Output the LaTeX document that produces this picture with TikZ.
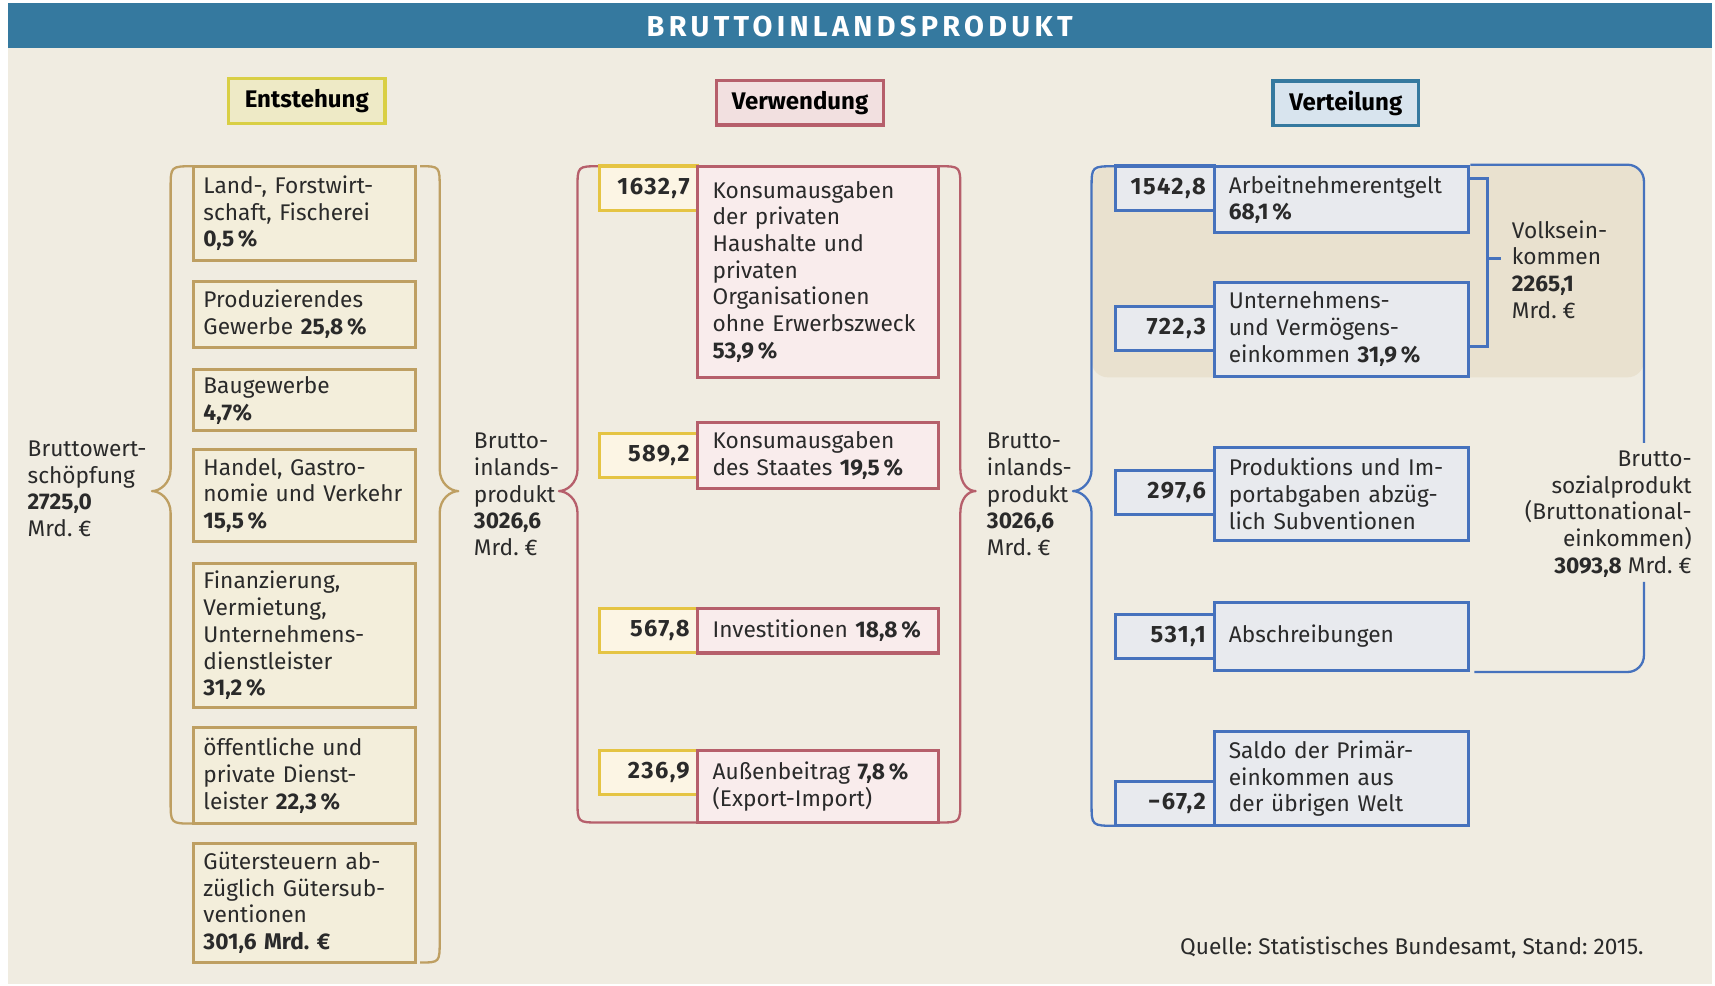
\documentclass[tikz,border=0pt]{standalone}
\usepackage{fontspec}
\setmainfont{Fira Sans}
\usetikzlibrary{calc}

\definecolor{cream}{HTML}{F0ECE1}
\definecolor{headblue}{HTML}{35799F}
\definecolor{tanline}{HTML}{BE9F62}
\definecolor{tanfill}{HTML}{F3EEDB}
\definecolor{goldline}{HTML}{E5C443}
\definecolor{goldfill}{HTML}{FCF5E4}
\definecolor{roseline}{HTML}{B65F6B}
\definecolor{rosefill}{HTML}{F9ECEC}
\definecolor{navyline}{HTML}{4672BD}
\definecolor{navyfill}{HTML}{E8EAEE}
\definecolor{shadebg}{HTML}{E9E1CF}
\definecolor{inktext}{HTML}{2A2A2A}
\definecolor{entline}{HTML}{D9CF45}
\definecolor{entfill}{HTML}{EEEAC6}
\definecolor{verwfill}{HTML}{F2E0E0}
\definecolor{vertfill}{HTML}{D8E4EE}

\newcommand{\bodyfont}{\fontsize{11.8}{13.9}\selectfont}

\tikzstyle{textbox}=[rectangle, line width=1.6pt, inner xsep=0.18cm, inner ysep=0pt, align=left, text=inktext, font=\bodyfont]
\tikzstyle{entbox}=[textbox, draw=tanline, fill=tanfill, text width=3.70cm]
\tikzstyle{verbox}=[textbox, draw=roseline, fill=rosefill, inner xsep=0.27cm, text width=3.86cm]
\tikzstyle{vtlbox}=[textbox, draw=navyline, fill=navyfill, inner xsep=0.27cm, text width=4.12cm]
\tikzstyle{valbox}=[textbox, align=right, text width=1.50cm, inner xsep=0.15cm, minimum height=0.81cm, font=\fontsize{12.3}{13.9}\selectfont\bfseries\addfontfeatures{LetterSpace=6}]
\tikzstyle{headbox}=[rectangle, line width=1.8pt, minimum height=0.82cm, inner xsep=0pt, font=\fontsize{12.5}{14}\selectfont\bfseries, text=black]
\tikzstyle{brace}=[line width=1.2pt, line join=round]
\tikzstyle{sumtext}=[align=left, inner sep=0pt, text=inktext, font=\bodyfont]

\begin{document}
\frenchspacing
\begin{tikzpicture}[x=0.02cm, y=-0.02cm]
    \useasboundingbox (0,0) rectangle (1568,901);
    \fill[white] (0,0) rectangle (1568,901);
    \fill[cream] (7,44) rectangle (1565,900);
    \fill[headblue] (7,3) rectangle (1565,44);
    \node[text=white, font=\fontsize{15}{16}\selectfont\bfseries\addfontfeatures{LetterSpace=15}] (title) at (786,24) {BRUTTOINLANDSPRODUKT};

    % headings of the three columns
    \node[headbox, draw=entline, fill=entfill, minimum width=2.86cm] (ent) at (280.5,92.5) {Entstehung};
    \node[headbox, draw=roseline, fill=verwfill, minimum width=3.06cm] (verw) at (731.5,94) {Verwendung};
    \node[headbox, draw=headblue, fill=vertfill, minimum width=2.66cm] (vert) at (1230.5,94.5) {Verteilung};

    % shaded part of the Volkseinkommen
    \fill[shadebg, rounded corners=0.3cm] (998,152) rectangle (1503,345);

    % braces
    \draw[brace, tanline] (177,152) .. controls (156,152) .. (156,172) -- (156,429)
        .. controls (156,442) and (146,449) .. (139,449) .. controls (146,449) and (156,456) .. (156,469)
        -- (156,733) .. controls (156,753) .. (177,753);
    \draw[brace, tanline] (384,152) .. controls (402,152) .. (402,172) -- (402,429)
        .. controls (402,442) and (412,449) .. (419,449) .. controls (412,449) and (402,456) .. (402,469)
        -- (402,860) .. controls (402,880) .. (384,880);
    \draw[brace, roseline] (548,152) .. controls (528,152) .. (528,172) -- (528,429)
        .. controls (528,442) and (518,449) .. (511,449) .. controls (518,449) and (528,456) .. (528,469)
        -- (528,732) .. controls (528,752) .. (548,752) -- (638,752);
    \draw[brace, roseline] (858,152) .. controls (878,152) .. (878,172) -- (878,429)
        .. controls (878,442) and (885,449) .. (892,449) .. controls (885,449) and (878,456) .. (878,469)
        -- (878,732) .. controls (878,752) .. (858,752);
    \draw[brace, navyline] (1020,152) .. controls (998,152) .. (998,172) -- (998,429)
        .. controls (998,442) and (988,449) .. (981,449) .. controls (988,449) and (998,456) .. (998,469)
        -- (998,735) .. controls (998,755) .. (1020,755);

    % Entstehung
    \node[entbox, minimum height=1.72cm] (land) at (278.5,195) {Land-, Forstwirt-\\schaft, Fischerei\\\textbf{0,5\,\%}};
    \node[entbox, minimum height=1.22cm] (prod) at (278.5,287.5) {Produzierendes\\Gewerbe \textbf{25,8\,\%}};
    \node[entbox, minimum height=1.12cm] (bau) at (278.5,366) {Baugewerbe\\\textbf{4,7\%}};
    \node[entbox, minimum height=1.68cm] (handel) at (278.5,453) {Handel, Gastro-\\nomie und Verkehr\\\textbf{15,5\,\%}};
    \node[entbox, minimum height=2.64cm] (finanz) at (278.5,581) {Finanzierung,\\Vermietung,\\Unternehmens-\\dienstleister\\\textbf{31,2\,\%}};
    \node[entbox, minimum height=1.76cm] (oeff) at (278.5,709) {öffentliche und\\private Dienst-\\leister \textbf{22,3\,\%}};
    \node[entbox, minimum height=2.18cm] (gueter) at (278.5,825.5) {Gütersteuern ab-\\züglich Gütersub-\\ventionen\\\textbf{301,6 Mrd. €}};

    \node[sumtext, anchor=west] (bws) at (25,447) {Bruttowert-\\schöpfung\\\textbf{2725,0}\\Mrd. €};
    \node[sumtext, anchor=west] (bip) at (433,452) {Brutto-\\inlands-\\produkt\\\textbf{3026,6}\\Mrd. €};

    % Verwendung
    \foreach \pos/ \name/ \val in {{(593,172)/kpriv-v/1632,7},{(593,416.5)/kstaat-v/589,2},{(593,576.5)/inv-v/567,8},{(593,706.5)/aussen-v/236,9}}
        \node[valbox, draw=goldline, fill=goldfill] (\name) at \pos {\val};

    \node[verbox, minimum height=3.86cm] (kpriv) at (748,248.5) {Konsumausgaben\\der privaten\\Haushalte und\\privaten\\Organisationen\\ohne Erwerbszweck\\\textbf{53,9\,\%}\\[-0.3\baselineskip]};
    \node[verbox, minimum height=1.22cm] (kstaat) at (748,416.5) {Konsumausgaben\\des Staates \textbf{19,5\,\%}};
    \node[verbox, minimum height=0.82cm] (inv) at (748,576.5) {Investitionen \textbf{18,8\,\%}};
    \node[verbox, minimum height=1.32cm] (aussen) at (748,719) {Außenbeitrag \textbf{7,8\,\%}\\(Export-Import)};

    \node[sumtext, anchor=west] (bip2) at (902,452) {Brutto-\\inlands-\\produkt\\\textbf{3026,6}\\Mrd. €};

    % Verteilung
    \foreach \pos/ \name/ \val in {{(1065,172)/ae-v/1542,8},{(1065,300.5)/uv-v/722,3},{(1065,450.5)/pi-v/297,6},{(1065,582)/ab-v/531,1},{(1065,734.5)/sp-v/−67,2}}
        \node[valbox, draw=navyline, fill=navyfill] (\name) at \pos {\val};

    \node[vtlbox, minimum height=1.22cm] (ae) at (1226.5,182.5) {Arbeitnehmerentgelt\\\textbf{68,1\,\%}};
    \node[vtlbox, minimum height=1.72cm] (uv) at (1226.5,301) {Unternehmens-\\und Vermögens-\\einkommen \textbf{31,9\,\%}};
    \node[vtlbox, minimum height=1.70cm] (pi) at (1226.5,451.5) {Produktions und Im-\\portabgaben abzüg-\\lich Subventionen};
    \node[vtlbox, minimum height=1.24cm] (ab) at (1226.5,582) {Abschreibungen};
    \node[vtlbox, minimum height=1.72cm] (sp) at (1226.5,712) {Saldo der Primär-\\einkommen aus\\der übrigen Welt};

    % Volkseinkommen and Bruttosozialprodukt
    \draw[navyline, line width=1.6pt] (ae.east |- 0,163) -- (1360,163) -- (1360,317) -- (uv.east |- 0,317);
    \draw[navyline, line width=1.6pt] (1360,236) -- (1372,236);
    \node[sumtext, anchor=west] (vek) at (1382,246.5) {Volksein-\\kommen\\\textbf{2265,1}\\Mrd. €};

    \draw[brace, navyline, rounded corners=0.3cm] (ae.north east) -| (1503,405);
    \draw[brace, navyline, rounded corners=0.3cm] (1503,532) |- ([xshift=2pt]ab.south east);
    \node[sumtext, anchor=east, align=right] (bsp) at (1547,470) {Brutto-\\sozialprodukt\\(Bruttonational-\\einkommen)\\\textbf{3093,8} Mrd. €};

    \node[sumtext, anchor=east] (quelle) at (1503,866) {Quelle: Statistisches Bundesamt, Stand: 2015.};
\end{tikzpicture}
\end{document}
